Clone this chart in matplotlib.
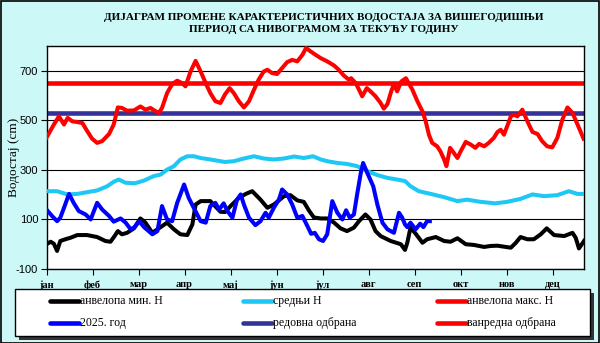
import matplotlib
matplotlib.use("Agg")
import matplotlib.pyplot as plt
from matplotlib.patches import Rectangle
from matplotlib.lines import Line2D

# x positions are in months from 1 January (0 = јан, 1 = феб, ...)
months = ["јан", "феб", "мар", "апр", "мај", "јун", "јул", "авг", "сеп", "окт", "нов", "дец"]

# envelope of maximum water levels
max_x = [0, 0.16, 0.27, 0.38, 0.46, 0.56, 0.67, 0.78, 0.88, 0.99, 1.10, 1.21, 1.36, 1.46,
         1.55, 1.64, 1.75, 1.90, 2.04, 2.15, 2.26, 2.35, 2.44, 2.51, 2.62, 2.73, 2.84, 2.95,
         3.02, 3.13, 3.24, 3.35, 3.46, 3.56, 3.67, 3.78, 3.88, 3.98, 4.07, 4.18, 4.29, 4.40,
         4.51, 4.61, 4.72, 4.80, 4.90, 5.01, 5.12, 5.23, 5.34, 5.45, 5.56, 5.64, 5.74, 5.85,
         5.96, 6.10, 6.25, 6.35, 6.46, 6.57, 6.62, 6.72, 6.79, 6.86, 6.96, 7.04, 7.15, 7.26,
         7.33, 7.41, 7.49, 7.55, 7.62, 7.71, 7.81, 7.95, 8.06, 8.17, 8.24, 8.31, 8.38, 8.49,
         8.56, 8.64, 8.69, 8.77, 8.85, 8.93, 9.00, 9.11, 9.22, 9.32, 9.40, 9.51, 9.61, 9.72,
         9.80, 9.87, 9.94, 10.01, 10.09, 10.16, 10.23, 10.34, 10.45, 10.56, 10.67, 10.77,
         10.88, 10.99, 11.10, 11.21, 11.32, 11.43, 11.54, 11.67]
max_y = [430, 483, 516, 483, 510, 496, 493, 489, 458, 426, 409, 416, 445, 483,
         552, 550, 539, 540, 556, 543, 550, 539, 530, 550, 610, 646, 660, 650,
         637, 697, 740, 697, 650, 610, 577, 570, 605, 630, 610, 577, 552, 577,
         624, 664, 697, 704, 691, 687, 711, 735, 744, 738, 764, 792, 778, 764,
         751, 738, 721, 704, 681, 664, 670, 650, 624, 597, 630, 617, 597, 570,
         547, 566, 617, 646, 617, 657, 670, 624, 577, 536, 496, 442, 409, 395,
         375, 342, 315, 389, 369, 348, 375, 413, 402, 389, 405, 395, 409, 429,
         453, 462, 442, 476, 516, 523, 516, 543, 496, 453, 445, 416,
         395, 391, 429, 503, 552, 530, 483, 426]

# mean water level
mean_x = [0, 0.23, 0.45, 0.67, 0.88, 1.10, 1.32, 1.46, 1.57, 1.72, 1.92, 2.12, 2.33, 2.48,
          2.62, 2.77, 2.91, 3.06, 3.20, 3.35, 3.56, 3.78, 3.88, 4.07, 4.29, 4.51, 4.72, 4.94,
          5.16, 5.38, 5.59, 5.79, 5.96, 6.10, 6.32, 6.53, 6.75, 6.97, 7.19, 7.40, 7.62, 7.79,
          7.91, 8.09, 8.35, 8.64, 8.93, 9.14, 9.43, 9.75, 10.01, 10.30, 10.56, 10.81, 11.10,
          11.35, 11.54, 11.67]
mean_y = [214, 214, 201, 203, 210, 217, 234, 252, 261, 248, 246, 257, 275, 281,
          301, 315, 342, 355, 355, 348, 342, 335, 332, 335, 346, 355, 346, 342,
          346, 354, 348, 355, 342, 335, 328, 324, 315, 295, 279, 268, 261, 255,
          234, 214, 203, 190, 174, 180, 171, 165, 171, 183, 201, 194, 198,
          214, 203, 203]

# envelope of minimum water levels
min_x = [0, 0.09, 0.16, 0.23, 0.30, 0.41, 0.52, 0.67, 0.88, 1.10, 1.28, 1.39, 1.48, 1.55,
         1.64, 1.75, 1.90, 2.04, 2.15, 2.30, 2.48, 2.62, 2.77, 2.91, 3.06, 3.17, 3.24, 3.35,
         3.56, 3.78, 3.88, 4.00, 4.18, 4.33, 4.47, 4.65, 4.80, 4.94, 5.16, 5.30, 5.45, 5.59,
         5.70, 5.81, 5.96, 6.10, 6.25, 6.39, 6.53, 6.68, 6.79, 6.93, 7.04, 7.15, 7.26, 7.48,
         7.70, 7.79, 7.84, 7.91, 8.02, 8.17, 8.27, 8.46, 8.64, 8.78, 8.93, 9.11, 9.29, 9.51,
         9.65, 9.80, 10.09, 10.20, 10.30, 10.45, 10.59, 10.74, 10.87, 11.03, 11.25, 11.43,
         11.50, 11.57, 11.64, 11.68]
min_y = [0, 10, 2, -27, 13, 20, 26, 37, 37, 29, 13, 10, 33, 53,
         40, 46, 64, 104, 87, 46, 69, 87, 60, 40, 37, 80, 160, 174,
         174, 131, 130, 154, 187, 203, 214, 180, 147, 160, 194, 198, 177, 171,
         137, 108, 104, 104, 87, 64, 53, 67, 93, 120, 100, 53, 33, 13,
         0, -23, 6, 67, 43, 6, 20, 29, 13, 10, 24, 0, -3, -11,
         -7, -6, -14, 6, 29, 20, 20, 40, 64, 37, 33, 46,
         26, -17, 2, 13]

# current year
cur_x = [0, 0.12, 0.23, 0.30, 0.38, 0.49, 0.59, 0.70, 0.85, 0.96, 1.03, 1.10, 1.21, 1.36,
         1.46, 1.61, 1.72, 1.83, 1.92, 2.01, 2.12, 2.30, 2.41, 2.51, 2.62, 2.73, 2.84, 2.99,
         3.09, 3.20, 3.35, 3.46, 3.56, 3.67, 3.75, 3.85, 3.93, 4.04, 4.14, 4.22, 4.29, 4.40,
         4.54, 4.65, 4.76, 4.83, 4.94, 5.05, 5.12, 5.23, 5.34, 5.45, 5.56, 5.67, 5.75, 5.83,
         5.92, 6.01, 6.10, 6.21, 6.32, 6.43, 6.51, 6.59, 6.68, 6.75, 6.83, 6.88, 6.97, 7.10,
         7.19, 7.30, 7.41, 7.55, 7.66, 7.73, 7.79, 7.84, 7.91, 8.02, 8.12, 8.19, 8.27, 8.33]
cur_y = [140, 114, 93, 107, 147, 203, 167, 134, 120, 100, 134, 167, 140, 114,
         91, 104, 87, 60, 70, 93, 69, 40, 53, 154, 100, 93, 167, 241,
         187, 147, 93, 87, 154, 167, 140, 165, 134, 107, 180, 201, 160, 107,
         77, 93, 127, 107, 147, 180, 221, 201, 160, 107, 114, 73, 42, 46,
         20, 13, 40, 174, 127, 100, 137, 107, 120, 201, 288, 328, 288, 234,
         160, 87, 60, 46, 127, 107, 80, 69, 87, 60, 83, 69, 93, 93]

regular_defence = 530
emergency_defence = 650

labels = ["анвелопа мин. Н", "средњи Н", "анвелопа макс. Н",
          "2025. год", "редовна одбрана", "ванредна одбрана"]
colors = ["black", "#1ec8f5", "#ff0000", "#0000ff", "#333399", "#ff0000"]

W, H = 600, 343
fig = plt.figure(figsize=(6, 3.43), dpi=100)
fig.patch.set_facecolor("#cdf8f8")
fig.add_artist(Rectangle((0.5 / W, 0.5 / H), 1 - 1.5 / W, 1 - 1.5 / H, transform=fig.transFigure,
                         fill=False, edgecolor="black", linewidth=1.2))

ax = fig.add_axes([46.5 / W, 1 - 269 / H, (584 - 46.5) / W, (269 - 46) / H])
ax.set_facecolor("white")

lw = 2.9
ax.plot(min_x, min_y, color=colors[0], lw=lw, zorder=3)
ax.plot(mean_x, mean_y, color=colors[1], lw=lw, zorder=3)
ax.plot(max_x, max_y, color=colors[2], lw=lw, zorder=3)
ax.plot(cur_x, cur_y, color=colors[3], lw=lw, zorder=4)
ax.axhline(regular_defence, color=colors[4], lw=3.3, zorder=2)
ax.axhline(emergency_defence, color=colors[5], lw=3.3, zorder=2)

ax.set_xlim(0, 11.68)
ax.set_ylim(-100, 800)
ax.set_yticks([-100, 100, 300, 500, 700])
ax.set_yticklabels(["-100", "100", "300", "500", "700"], fontfamily="Liberation Sans", fontsize=8)
ax.set_xticks(range(12))
ax.set_xticklabels(months, fontfamily="Liberation Serif", fontweight="bold", fontsize=7.5)
ax.tick_params(axis="x", length=4, width=0.8, pad=4)
ax.tick_params(axis="y", length=4, width=0.8, pad=2)
ax.grid(axis="y", color="black", lw=0.8, zorder=1)
for sp in ax.spines.values():
    sp.set_linewidth(1)
    sp.set_color("black")

ax.set_ylabel("Водостај (cm)", fontfamily="Liberation Serif", fontsize=9.5)
ax.yaxis.set_label_coords(-0.049, 0.5)

fig.text(324 / W, 1 - 17 / H, "ДИЈАГРАМ ПРОМЕНЕ КАРАКТЕРИСТИЧНИХ ВОДОСТАЈА ЗА ВИШЕГОДИШЊИ",
         ha="center", va="center", fontfamily="Liberation Serif", fontweight="bold", fontsize=8)
fig.text(324 / W, 1 - 29 / H, "ПЕРИОД СА НИВОГРАМОМ ЗА ТЕКУЋУ ГОДИНУ",
         ha="center", va="center", fontfamily="Liberation Serif", fontweight="bold", fontsize=8)

# legend box with shadow
bx, by, bw, bh = 15, 289, 575, 47
fig.add_artist(Rectangle(((bx + 4) / W, 1 - (by + bh + 4) / H), bw / W, bh / H,
                         transform=fig.transFigure, facecolor="#333333", edgecolor="none"))
fig.add_artist(Rectangle((bx / W, 1 - (by + bh) / H), bw / W, bh / H,
                         transform=fig.transFigure, facecolor="white", edgecolor="black", linewidth=1))

col_x = [50, 243, 437]
row_y = [301, 323]
for i, (lab, c) in enumerate(zip(labels, colors)):
    cx = col_x[i % 3]
    cy = 1 - row_y[i // 3] / H
    fig.add_artist(Line2D([cx / W, (cx + 29) / W], [cy, cy], transform=fig.transFigure,
                          color=c, lw=3.3, solid_capstyle="round"))
    fig.text((cx + 30) / W, cy, lab, ha="left", va="center",
             fontfamily="Liberation Serif", fontsize=8.5)

fig.savefig("out.png", dpi=100, facecolor=fig.get_facecolor())
